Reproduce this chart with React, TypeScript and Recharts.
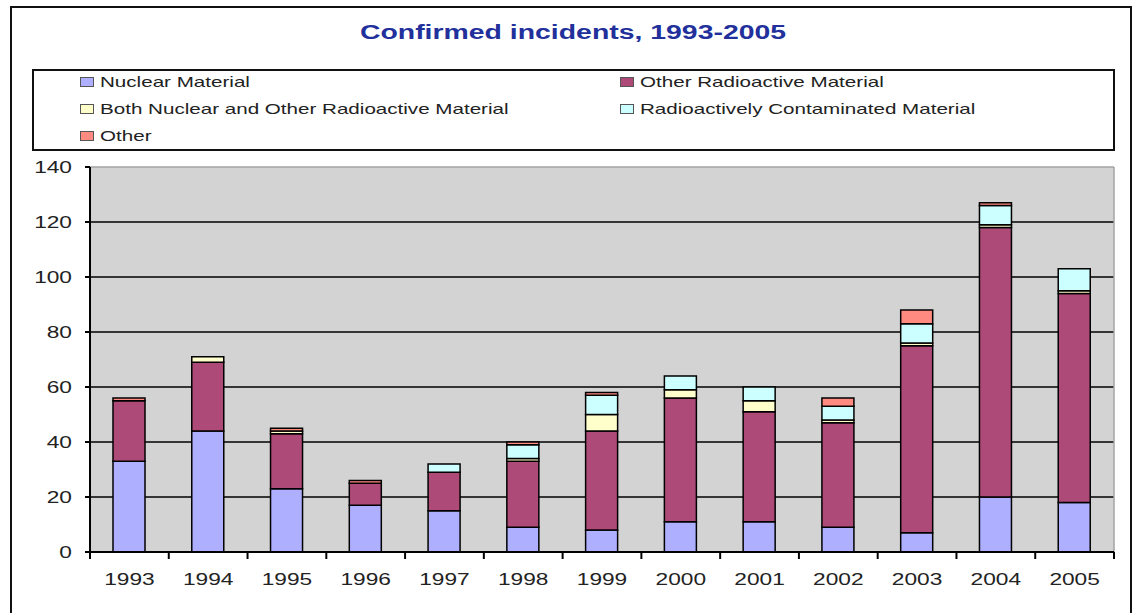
import { Bar, BarChart, CartesianGrid, XAxis, YAxis } from "recharts";

const YEARS = ["1993", "1994", "1995", "1996", "1997", "1998", "1999", "2000", "2001", "2002", "2003", "2004", "2005"];
const NUCLEAR = [33, 44, 23, 17, 15, 9, 8, 11, 11, 9, 7, 20, 18];
const OTHER_RADIOACTIVE = [22, 25, 20, 8, 14, 24, 36, 45, 40, 38, 68, 98, 76];
const BOTH = [0, 2, 1, 0, 0, 1, 6, 3, 4, 1, 1, 1, 1];
const CONTAMINATED = [0, 0, 0, 0, 3, 5, 7, 5, 5, 5, 7, 7, 8];
const OTHER = [1, 0, 1, 1, 0, 1, 1, 0, 0, 3, 5, 1, 0];
const Y_TICKS = [0, 20, 40, 60, 80, 100, 120, 140];
const GRID_VALUES = [20, 40, 60, 80, 100, 120];

const SERIES = [
  { key: "nuclear", name: "Nuclear Material", color: "#aeb0ff", values: NUCLEAR },
  { key: "otherRad", name: "Other Radioactive Material", color: "#ad4a78", values: OTHER_RADIOACTIVE },
  { key: "both", name: "Both Nuclear and Other Radioactive Material", color: "#ffffcc", values: BOTH },
  { key: "contaminated", name: "Radioactively Contaminated Material", color: "#ccffff", values: CONTAMINATED },
  { key: "other", name: "Other", color: "#ff8a80", values: OTHER },
];

const data = YEARS.map((year, i) => {
  const row: Record<string, string | number> = { year };
  SERIES.forEach((s) => (row[s.key] = s.values[i]));
  return row;
});

const FONT = '"Liberation Sans", Arial, sans-serif';
const SX = 1.42; // the old export is stretched sideways, text included
const TEXT = "#222";

function YTick({ x, y, payload }: any) {
  return (
    <text
      transform={`translate(${x},${y}) scale(${SX},1)`}
      textAnchor="end"
      dy="0.36em"
      fontSize={16}
      fontFamily={FONT}
      fill={TEXT}
    >
      {payload.value}
    </text>
  );
}

// Excel-style category axis: tick marks sit between the bars, labels in the middle
function XTick({ x, y, payload, index }: any) {
  const half = payload.offset ?? 39.4;
  const last = index === YEARS.length - 1;
  return (
    <g>
      <line x1={x - half} x2={x - half} y1={y} y2={y + 7} stroke="#000" strokeWidth={2} />
      {last && <line x1={x + half} x2={x + half} y1={y} y2={y + 7} stroke="#000" strokeWidth={2} />}
      <text
        transform={`translate(${x},${y + 33}) scale(${SX},1)`}
        textAnchor="middle"
        fontSize={16}
        fontFamily={FONT}
        fill={TEXT}
      >
        {payload.value}
      </text>
    </g>
  );
}

function LegendBox() {
  return (
    <div
      style={{
        position: "absolute",
        left: 32,
        top: 69,
        width: 1083,
        height: 82,
        border: "2px solid #111",
        boxSizing: "border-box",
        background: "#fff",
      }}
    >
      {SERIES.map((s, i) => {
        const col = i % 2;
        const row = Math.floor(i / 2);
        const left = col === 0 ? 46 : 586;
        const top = 11 + row * 27;
        return (
          <div key={s.key}>
            <div
              style={{
                position: "absolute",
                left,
                top: top - 5,
                width: 14,
                height: 10,
                background: s.color,
                border: "1px solid #555",
                boxSizing: "border-box",
              }}
            />
            <div
              style={{
                position: "absolute",
                left: left + 20,
                top,
                fontFamily: FONT,
                fontSize: 14.5,
                color: TEXT,
                whiteSpace: "nowrap",
                lineHeight: 1,
                transform: `translateY(-50%) scaleX(${SX})`,
                transformOrigin: "left center",
              }}
            >
              {s.name}
            </div>
          </div>
        );
      })}
    </div>
  );
}

export default function App() {
  return (
    <div
      style={{
        position: "absolute",
        left: 0,
        top: 0,
        width: 1134,
        height: 613,
        overflow: "hidden",
        background: "#fff",
        fontFamily: FONT,
      }}
    >
      <div
        style={{
          position: "absolute",
          left: 10,
          top: 6,
          width: 1122,
          height: 640,
          border: "2px solid #111",
          boxSizing: "border-box",
        }}
      />
      <div
        style={{
          position: "absolute",
          left: 572.5,
          top: 32,
          fontSize: 20,
          fontWeight: "bold",
          color: "#22309c",
          whiteSpace: "nowrap",
          lineHeight: 1,
          transform: `translate(-50%,-50%) scaleX(${SX})`,
        }}
      >
        Confirmed incidents, 1993-2005
      </div>
      <LegendBox />
      <div style={{ position: "absolute", left: 0, top: 0 }}>
        <BarChart width={1134} height={613} data={data} margin={{ top: 167, right: 20, bottom: 0, left: 0 }} barSize={32}>
          <CartesianGrid
            vertical={false}
            horizontalValues={GRID_VALUES}
            fill="#d3d3d3"
            fillOpacity={1}
            stroke="#000"
            strokeWidth={1.5}
          />
          <CartesianGrid
            horizontalCoordinatesGenerator={({ offset }: any) => [offset.top]}
            verticalCoordinatesGenerator={({ offset }: any) => [offset.left + offset.width]}
            stroke="#a3a3a3"
            strokeWidth={1.5}
          />
          <XAxis
            dataKey="year"
            height={61}
            axisLine={{ stroke: "#000", strokeWidth: 2 }}
            tickLine={false}
            tickSize={0}
            tickMargin={0}
            interval={0}
            tick={<XTick />}
          />
          <YAxis
            width={90}
            domain={[0, 140]}
            ticks={Y_TICKS}
            interval={0}
            axisLine={{ stroke: "#000", strokeWidth: 2 }}
            tickLine={{ stroke: "#000", strokeWidth: 2 }}
            tickSize={5}
            tickMargin={13}
            tick={<YTick />}
          />
          {SERIES.map((s) => (
            <Bar
              key={s.key}
              dataKey={s.key}
              name={s.name}
              stackId="incidents"
              fill={s.color}
              stroke="#000"
              strokeWidth={1.5}
              isAnimationActive={false}
            />
          ))}
        </BarChart>
      </div>
    </div>
  );
}
